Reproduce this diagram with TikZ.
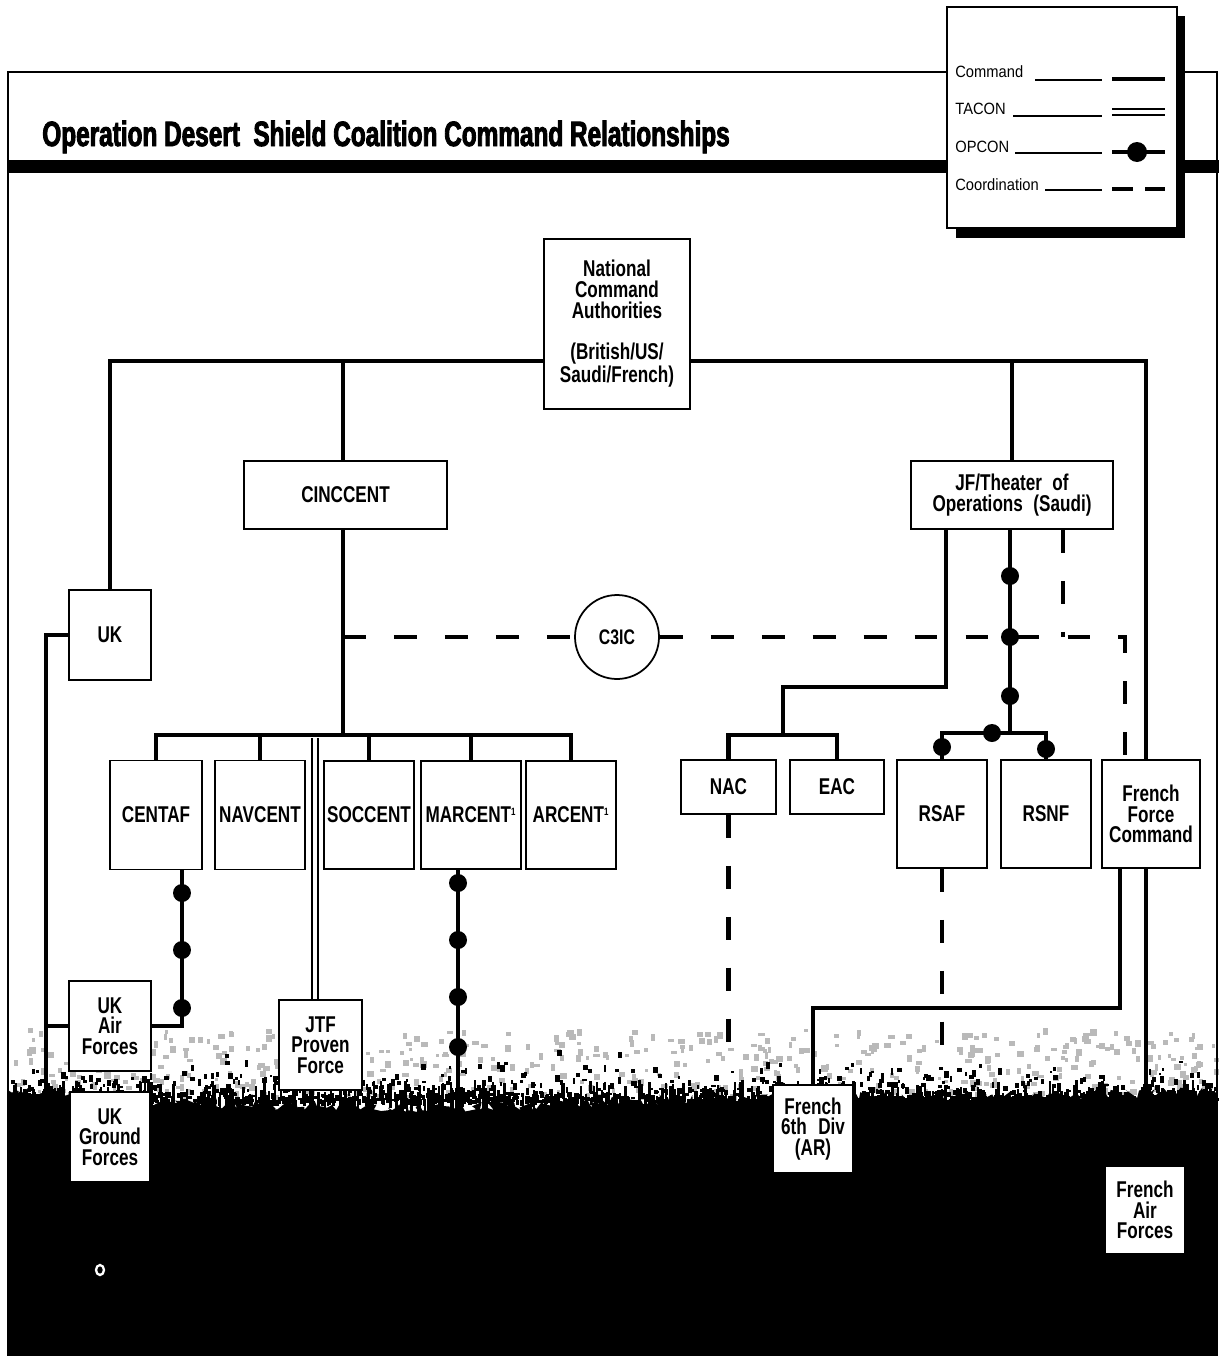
\documentclass[tikz,border=0pt]{standalone}
\usepackage{fontspec}
\setmainfont{Liberation Sans}
\newfontfamily\boxfont[FakeStretch=0.75]{Liberation Sans Bold}
\newfontfamily\titlefont[FakeStretch=0.693,FakeBold=2.5]{Liberation Sans Bold}
\newfontfamily\legfont[FakeStretch=0.9]{Liberation Sans}
\usetikzlibrary{calc, positioning, backgrounds, decorations.pathmorphing}

\tikzset{
  box/.style 2 args={draw, line width=1pt, fill=white, align=center, inner sep=0pt,
    minimum width=#1*0.02cm, minimum height=#2*0.02cm,
    font=\boxfont\fontsize{13}{11.8}\selectfont}, % org chart box, size in px
  cmd/.style={line width=2.8pt},                    % Command
  opcon/.style={line width=2.8pt},                  % OPCON (dots added)
  tacon/.style={double, double distance=2.4pt, line width=0.9pt}, % TACON
  coord/.style={line width=2.8pt, dash pattern=on 13pt off 16pt}, % Coordination
  leader/.style={line width=0.6pt},
  legtxt/.style={anchor=west, inner sep=0pt, font=\legfont\fontsize{9.3}{11}\selectfont},
}
\newcommand{\supone}{\textsuperscript{\fontsize{6}{6}\selectfont 1}}

\begin{document}
\begin{tikzpicture}[x=0.02cm, y=-0.02cm, line join=miter]
\useasboundingbox (0,0) rectangle (1219,1356);

    % --- Frame and title ---
    \draw[line width=0.6pt] (947,72) -- (8,72) -- (8,1356);
    \draw[line width=0.6pt] (1185,72) -- (1217,72) -- (1217,1356);
    \fill (8,160) rectangle (1219,173);
    \node[anchor=base west, inner sep=0pt, font=\titlefont\fontsize{20}{22}\selectfont] (title) at (42,146)
        {Operation Desert\ \ Shield Coalition Command Relationships};

    % --- Legend ---
    \fill (956,16) rectangle (1185,238); % shadow
    \draw[line width=0.6pt, fill=white] (947,7) rectangle (1177,228);
    \node[legtxt] (lgcmd) at (955,72) {Command};
    \node[legtxt] (lgtac) at (955,109) {TACON};
    \node[legtxt] (lgop) at (955,147) {OPCON};
    \node[legtxt] (lgco) at (955,185) {Coordination};
    \draw[leader] (1035,80) -- (1102,80);
    \draw[leader] (1013,116) -- (1102,116);
    \draw[leader] (1015,153) -- (1102,153);
    \draw[leader] (1045,190) -- (1102,190);
    \draw[cmd] (1112,79) -- (1165,79);
    \draw[tacon] (1112,112) -- (1165,112);
    \draw[opcon] (1112,152) -- (1165,152);
    \fill (1137,152) circle (0.2cm);
    \draw[line width=2.8pt] (1112,189) -- (1133,189) (1145,189) -- (1165,189);

    % --- Ground texture ---
    \begin{pgfonlayer}{background}
    \pgfmathsetseed{42}
    \foreach \k in {1,...,520}
        \fill[gray!55] ({12+1203*rnd},{1028+68*rnd}) rectangle ++({3+4*rnd},{3+4*rnd});
    \foreach \k in {1,...,1600}
        \fill ({8+1207*rnd},{1100-55*rnd*rnd*rnd}) rectangle ++({2+3*rnd},{2+5*rnd});
    \foreach \k in {1,...,260}
        \fill ({8+1205*rnd},{1080+20*rnd}) rectangle ++(2.5,{10+25*rnd});
    \fill (8,1356) -- (8,1090)
        decorate[decoration={random steps, segment length=2pt, amplitude=3pt}]
        {-- (160,1102) -- (450,1108) -- (700,1098) -- (1000,1097) -- (1217,1092)}
        -- (1217,1356) -- cycle;
    \draw[white, line width=1.3pt] (100,1270) ellipse (0.08cm and 0.1cm);
    \end{pgfonlayer}

    % --- Boxes ---
    \node[box={146}{170}] (nca) at (617,324)
        {National\\Command\\Authorities\\[11.8pt](British/US/\\Saudi/French)};
    \node[box={203}{68}] (cinc) at (345.5,495) {CINCCENT};
    \node[box={202}{68}] (jf) at (1012,495) {JF/Theater\hspace{0.25em} of\\Operations\hspace{0.25em} (Saudi)};
    \node[box={82}{90}] (uk) at (110,635) {UK};
    \node[draw, circle, line width=1pt, fill=white, minimum size=84*0.02cm, inner sep=0pt,
        font=\boxfont\fontsize{12}{12}\selectfont] (c3ic) at (617,637) {C3IC};

    \node[box={92}{109}] (centaf) at (156,815) {CENTAF};
    \node[box={90}{109}] (navcent) at (260,815) {NAVCENT};
    \node[box={90}{108}] (soccent) at (369,815) {SOCCENT};
    \node[box={100}{108}] (marcent) at (471,815) {MARCENT\supone};
    \node[box={90}{108}] (arcent) at (571,815) {ARCENT\supone};
    \node[box={95}{54}] (nac) at (728.5,787) {NAC};
    \node[box={94}{54}] (eac) at (837,787) {EAC};
    \node[box={90}{108}] (rsaf) at (942,814) {RSAF};
    \node[box={90}{108}] (rsnf) at (1046,814) {RSNF};
    \node[box={98}{108}] (ffc) at (1151,814) {French\\Force\\Command};

    \node[box={82}{90}] (ukair) at (110,1026) {UK\\Air\\Forces};
    \node[box={83}{90}] (jtf) at (320.5,1045) {JTF\\Proven\\Force};
    \node[box={80}{90}] (ukgnd) at (110,1137) {UK\\Ground\\Forces};
    \node[box={80}{88}] (fr6) at (813,1129) {French\\6th\hspace{0.3em} Div\\(AR)};
    \node[box={80}{87}] (frair) at (1145,1210) {French\\Air\\Forces};

    % --- Definitions ---
    \coordinate (topbus) at (0,361);
    \coordinate (cbus) at (0,735);
    \coordinate (rbus) at (0,733);
    \coordinate (cx) at (343,0);
    \coordinate (ukx) at (46,0);
    \coordinate (tx) at (315,0);
    \coordinate (cfx) at (182,0);
    \coordinate (ja) at (946,0);
    \coordinate (ox) at (1010,0);
    \coordinate (jfd) at (1063,0);
    \coordinate (ffx) at (1120,0);
    \coordinate (frx) at (1146,0);
    \coordinate (crn) at (1125,637);
    \coordinate (nbend) at (783,687);
    \coordinate (nbus) at (783,735);
    \coordinate (frbend) at (813,1008);
    \coordinate (mcend) at (458,1110);
    \coordinate (dashend) at (0,1062);

    % --- Command ---
    \draw[cmd] (nca.west |- topbus) -| (uk.north);
    \draw[cmd] (cx |- topbus) -- (cx |- cinc.north);
    \draw[cmd] (nca.east |- topbus) -| (frx |- ffc.north);
    \draw[cmd] (jf.north) -- (jf.north |- topbus);
    \draw[cmd] (uk.west) -| (ukx |- ukgnd.west) -- (ukgnd.west);
    \draw[cmd] (ukx |- ukair.west) -- (ukair.west);
    \draw[cmd] (cx |- cinc.south) -- (cx |- cbus);
    \draw[cmd] (centaf.north) |- (arcent.north |- cbus) -- (arcent.north);
    \foreach \n in {navcent, soccent, marcent}
        \draw[cmd] (\n.north) -- (\n.north |- cbus);
    \draw[cmd] (ja |- jf.south) |- (nbend) -- (nbus);
    \draw[cmd] (nac.north) |- (nbus) -| (eac.north);
    \draw[cmd] (ffx |- ffc.south) |- (frbend) -- (fr6.north);
    \draw[cmd] (frx |- ffc.south) -- (frx |- frair.north);

    % --- TACON ---
    \draw[tacon] ($(tx |- cbus)+(0,3)$) -- (tx |- jtf.north);

    % --- OPCON ---
    \draw[opcon] (cfx |- centaf.south) |- (ukair.east);
    \foreach \yy in {893,950,1008} \fill (182,\yy) circle (0.18cm);
    \draw[opcon] (mcend |- marcent.south) -- (mcend);
    \foreach \yy in {883,940,997,1047} \fill (458,\yy) circle (0.18cm);
    \draw[opcon] (ox |- jf.south) -- (ox |- rbus);
    \draw[opcon] (rsaf.north) |- (rsnf.north |- rbus) -- (rsnf.north);
    \foreach \pp in {(1010,576),(1010,637),(1010,696),(992,733),(942,747),(1046,749)}
        \fill \pp circle (0.18cm);

    % --- Coordination ---
    \draw[coord] (cx |- c3ic.west) -- (c3ic.west);
    \draw[coord] (c3ic.east) -- (crn) -- (crn |- ffc.north);
    \draw[coord] (jfd |- jf.south) -- (jfd |- crn);
    \draw[coord] (nac.south) -- (nac.south |- dashend);
    \draw[coord] (rsaf.south) -- (rsaf.south |- dashend);

\end{tikzpicture}
\end{document}
